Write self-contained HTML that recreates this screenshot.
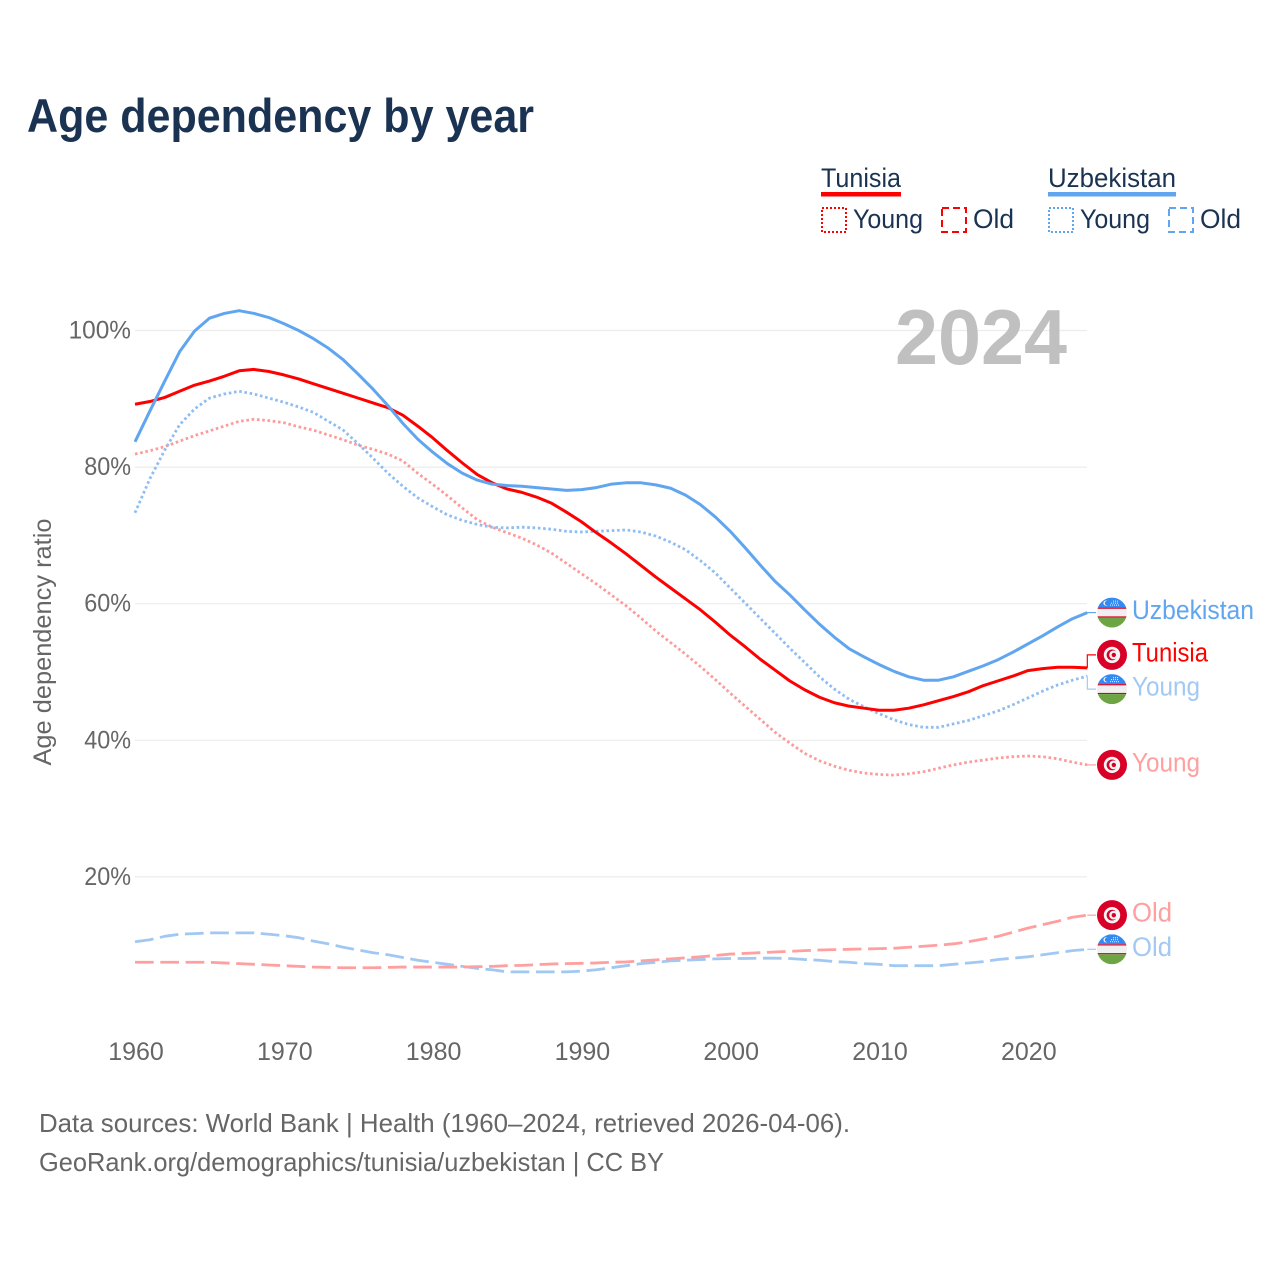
<!DOCTYPE html>
<html lang="en">
<head>
<meta charset="utf-8">
<title>Age dependency by year</title>
<style>
html,body{margin:0;padding:0;background:#fff;}
svg{display:block;}
text{font-family:"Liberation Sans",sans-serif;}
</style>
</head>
<body>
<svg id="chart" xmlns="http://www.w3.org/2000/svg" width="1280" height="1280" viewBox="0 0 1280 1280">
  <rect x="0" y="0" width="1280" height="1280" fill="#ffffff"/>
  <text x="27" y="132" font-size="47" font-weight="700" fill="#1a3352" textLength="507" lengthAdjust="spacingAndGlyphs">Age dependency by year</text>

  <g font-size="27" fill="#1a3352">
    <text x="821" y="187" textLength="80" lengthAdjust="spacingAndGlyphs">Tunisia</text>
    <rect x="821" y="192" width="80" height="4.5" fill="#ff0000"/>
    <rect x="822" y="208" width="24" height="24" fill="none" stroke="#ff0000" stroke-width="2" stroke-dasharray="2 2"/>
    <text x="853" y="228" textLength="70" lengthAdjust="spacingAndGlyphs">Young</text>
    <rect x="942" y="208" width="24" height="24" fill="none" stroke="#ff0000" stroke-width="2" stroke-dasharray="7 4"/>
    <text x="973" y="228" textLength="41" lengthAdjust="spacingAndGlyphs">Old</text>
    <text x="1048" y="187" textLength="128" lengthAdjust="spacingAndGlyphs">Uzbekistan</text>
    <rect x="1048" y="192" width="128" height="4.5" fill="#60a5ef"/>
    <rect x="1049" y="208" width="24" height="24" fill="none" stroke="#60a5ef" stroke-width="2" stroke-dasharray="2 2"/>
    <text x="1080" y="228" textLength="70" lengthAdjust="spacingAndGlyphs">Young</text>
    <rect x="1169" y="208" width="24" height="24" fill="none" stroke="#60a5ef" stroke-width="2" stroke-dasharray="7 4"/>
    <text x="1200" y="228" textLength="41" lengthAdjust="spacingAndGlyphs">Old</text>
  </g>

  <g id="grid"></g>
  <text x="1067" y="364" text-anchor="end" font-size="78" font-weight="700" fill="#c0c0c0" textLength="172" lengthAdjust="spacingAndGlyphs">2024</text>
  <g id="y-ticks"></g>
  <g id="x-ticks"></g>
  <text transform="translate(51,642) rotate(-90)" text-anchor="middle" font-size="25" fill="#666666" textLength="247" lengthAdjust="spacingAndGlyphs">Age dependency ratio</text>
  <g id="series"></g>
  <g id="end-labels"></g>

  <g font-size="26" fill="#666666">
    <text x="39" y="1132" textLength="811" lengthAdjust="spacingAndGlyphs">Data sources: World Bank | Health (1960–2024, retrieved 2026-04-06).</text>
    <text x="39" y="1171" textLength="625" lengthAdjust="spacingAndGlyphs">GeoRank.org/demographics/tunisia/uzbekistan | CC BY</text>
  </g>
</svg>

<script>
const startYear = 1960;
const yTicks = [20, 40, 60, 80, 100];
const xTicks = [1960, 1970, 1980, 1990, 2000, 2010, 2020];

const tunisiaTotal = [
  89.2,89.6,90.2,91.1,92.0,92.6,93.3,94.1,94.3,94.0,
  93.5,92.9,92.2,91.5,90.8,90.1,89.4,88.7,87.6,86.0,
  84.3,82.4,80.6,78.9,77.7,76.8,76.3,75.6,74.7,73.4,
  72.0,70.4,68.9,67.3,65.6,63.9,62.3,60.7,59.1,57.3,
  55.4,53.7,51.9,50.3,48.7,47.4,46.3,45.5,45.0,44.7,
  44.4,44.4,44.7,45.2,45.8,46.4,47.1,48.0,48.7,49.4,
  50.2,50.5,50.7,50.7,50.6];
const tunisiaYoung = [
  81.9,82.4,83.0,83.8,84.6,85.3,86.0,86.7,87.0,86.8,
  86.5,85.9,85.4,84.7,84.0,83.2,82.6,81.9,80.9,79.1,
  77.5,75.8,74.0,72.3,71.2,70.4,69.6,68.6,67.4,65.9,
  64.4,62.9,61.3,59.7,57.9,56.0,54.3,52.6,50.8,48.9,
  46.9,45.0,43.1,41.2,39.6,38.1,37.0,36.2,35.6,35.2,
  35.0,34.9,35.1,35.4,35.9,36.4,36.8,37.1,37.4,37.6,
  37.7,37.6,37.3,36.8,36.4];
const tunisiaOld = [
  7.5,7.5,7.5,7.5,7.5,7.5,7.4,7.3,7.2,7.1,
  7.0,6.9,6.8,6.75,6.7,6.7,6.7,6.75,6.8,6.8,
  6.8,6.8,6.8,6.85,6.9,7.0,7.05,7.15,7.25,7.3,
  7.35,7.4,7.5,7.55,7.7,7.85,8.0,8.15,8.3,8.5,
  8.7,8.8,8.9,9.0,9.1,9.2,9.3,9.35,9.4,9.45,
  9.5,9.55,9.7,9.85,10.0,10.2,10.5,10.9,11.3,11.9,
  12.5,13.0,13.5,14.1,14.4];
const uzbekistanTotal = [
  83.7,88.2,92.6,96.9,99.9,101.8,102.5,102.9,102.5,101.9,
  101.0,100.0,98.8,97.4,95.7,93.6,91.4,89.0,86.4,84.1,
  82.2,80.5,79.1,78.1,77.5,77.3,77.2,77.0,76.8,76.6,
  76.7,77.0,77.5,77.7,77.7,77.4,76.9,75.9,74.5,72.7,
  70.6,68.2,65.7,63.3,61.3,59.1,57.0,55.1,53.4,52.2,
  51.1,50.1,49.3,48.8,48.8,49.3,50.1,50.9,51.8,52.9,
  54.1,55.3,56.6,57.8,58.7];
const uzbekistanYoung = [
  73.3,78.3,82.5,86.2,88.5,90.1,90.7,91.1,90.7,90.1,
  89.5,88.8,88.0,86.7,85.4,83.4,81.3,79.1,77.2,75.5,
  74.2,73.0,72.2,71.6,71.2,71.1,71.2,71.1,70.9,70.6,
  70.5,70.6,70.7,70.8,70.5,69.9,69.0,67.9,66.3,64.5,
  62.3,60.1,57.9,55.7,53.5,51.4,49.3,47.5,46.0,44.9,
  43.9,43.0,42.3,41.9,41.9,42.4,42.9,43.6,44.3,45.2,
  46.2,47.2,48.1,48.8,49.4];
const uzbekistanOld = [
  10.5,10.8,11.3,11.6,11.7,11.8,11.8,11.8,11.8,11.6,
  11.4,11.1,10.6,10.2,9.7,9.3,8.9,8.6,8.2,7.8,
  7.5,7.2,6.9,6.6,6.4,6.1,6.1,6.1,6.1,6.1,
  6.2,6.4,6.7,7.0,7.3,7.5,7.7,7.8,7.9,8.0,
  8.05,8.05,8.1,8.1,8.05,7.9,7.8,7.6,7.5,7.3,
  7.2,7.0,7.0,7.0,7.0,7.2,7.4,7.6,7.9,8.1,
  8.3,8.6,8.9,9.2,9.4];

const SVG_NS = 'http://www.w3.org/2000/svg';
const xScale = function (year) { return 135 + (year - startYear) * 14.88; };
const yScale = function (value) { return 1013.5 - value * 6.83; };

function make(tag, attrs, parent) {
  const el = document.createElementNS(SVG_NS, tag);
  Object.keys(attrs).forEach(function (k) { el.setAttribute(k, attrs[k]); });
  parent.appendChild(el);
  return el;
}

const gridGroup = document.getElementById('grid');
const yTickGroup = document.getElementById('y-ticks');
yTicks.forEach(function (t) {
  const line = make('line', {x1: 135, x2: 1087, y1: yScale(t), y2: yScale(t), stroke: '#ececec', 'stroke-width': 1.2}, gridGroup);
  
  
  const label = make('text', {x: 131, y: yScale(t) + 8, 'text-anchor': 'end', 'font-size': 25, fill: '#666666'}, yTickGroup);
  
  
  label.textContent = t + '%';
  label.setAttribute('textLength', String(t + '%').length * 15.6);
  label.setAttribute('lengthAdjust', 'spacingAndGlyphs');
});

const xTickGroup = document.getElementById('x-ticks');
xTicks.forEach(function (t) {
  const label = make('text', {x: xScale(t) + 1, y: 1060, 'text-anchor': 'middle', 'font-size': 25, fill: '#666666'}, xTickGroup);
  
  
  label.textContent = t;
});

function linePath(values) {
  return values.map(function (v, i) {
    return (i ? 'L' : 'M') + xScale(startYear + i).toFixed(2) + ' ' + yScale(v).toFixed(2);
  }).join(' ');
}

const seriesGroup = document.getElementById('series');
function drawSeries(name, values, color, dash, width) {
  const attrs = {d: linePath(values), fill: 'none', stroke: color, 'stroke-width': width, 'stroke-linejoin': 'round'};
  if (dash) { attrs['stroke-dasharray'] = dash; }
  const path = make('path', attrs, seriesGroup);
  
  
}

drawSeries('line-uzbekistan-old', uzbekistanOld, '#a0c8f3', '18.7 6.6', 2.8);
drawSeries('line-tunisia-old', tunisiaOld, '#ff9f9f', '18.7 6.6', 2.8);
drawSeries('line-tunisia-young', tunisiaYoung, '#ff9a9a', '2.6 2.7', 2.8);
drawSeries('line-uzbekistan-young', uzbekistanYoung, '#8fbdf3', '2.6 2.7', 2.8);
drawSeries('line-tunisia-total', tunisiaTotal, '#ff0000', null, 3);
drawSeries('line-uzbekistan-total', uzbekistanTotal, '#60a5ef', null, 3);

function drawFlag(parent, kind, cy, clipId) {
  const cx = 1112;
  const g = make('g', {}, parent);
  
  
  if (kind === 'tunisia') {
    make('circle', {cx: cx, cy: cy, r: 15, fill: '#d80027'}, g);
    make('circle', {cx: cx, cy: cy, r: 8.2, fill: '#f5f5f5'}, g);
    make('circle', {cx: cx, cy: cy, r: 5.4, fill: '#d80027'}, g);
    make('circle', {cx: cx + 1.6, cy: cy, r: 4.4, fill: '#f5f5f5'}, g);
    make('circle', {cx: cx + 1.8, cy: cy, r: 2.2, fill: '#d80027'}, g);
  } else {
    const clip = make('clipPath', {id: clipId}, g);
    make('circle', {cx: cx, cy: cy, r: 15}, clip);
    const inner = make('g', {'clip-path': 'url(#' + clipId + ')'}, g);
    make('rect', {x: cx - 15, y: cy - 15, width: 30, height: 10, fill: '#338af3'}, inner);
    make('rect', {x: cx - 15, y: cy - 5, width: 30, height: 10, fill: '#f0f0f0'}, inner);
    make('rect', {x: cx - 15, y: cy - 5, width: 30, height: 1.2, fill: '#d80027'}, inner);
    make('rect', {x: cx - 15, y: cy + 3.8, width: 30, height: 1.2, fill: '#d80027'}, inner);
    make('rect', {x: cx - 15, y: cy + 5, width: 30, height: 10, fill: '#6da544'}, inner);
    make('circle', {cx: cx - 6, cy: cy - 9.5, r: 2.6, fill: '#f0f0f0'}, inner);
    make('circle', {cx: cx - 5, cy: cy - 9.5, r: 2.2, fill: '#338af3'}, inner);
    make('path', {d: 'M' + (cx + 1) + ' ' + (cy - 11.5) + 'h6M' + (cx - 1) + ' ' + (cy - 9.5) + 'h8M' + (cx - 2) + ' ' + (cy - 7.5) + 'h9', stroke: '#eaf2fd', 'stroke-width': 1, 'stroke-dasharray': '1 1', fill: 'none'}, inner);
  }
}

const labelGroup = document.getElementById('end-labels');
function drawEndLabel(name, text, kind, values, color, connectorColor, nudge, labelWidth, clipId) {
  const yEnd = yScale(values[values.length - 1]);
  const yLabel = yEnd + nudge;
  const x0 = xScale(startYear + values.length - 1);
  const connector = make('path', {
    d: 'M' + x0 + ' ' + yEnd + ' L' + x0 + ' ' + yLabel + ' L1096 ' + yLabel,
    fill: 'none', stroke: connectorColor, 'stroke-width': 1.2
  }, labelGroup);
  
  
  drawFlag(labelGroup, kind, yLabel, clipId);
  const label = make('text', {
    x: 1132, y: yLabel + 6.5, 'font-size': 27, fill: color,
    textLength: labelWidth, lengthAdjust: 'spacingAndGlyphs'
  }, labelGroup);
  
  
  label.textContent = text;
}

drawEndLabel('end-uzbekistan', 'Uzbekistan', 'uzbekistan', uzbekistanTotal, '#60a5ef', '#60a5ef', 0, 122, 'clip-uz-a');
drawEndLabel('end-tunisia', 'Tunisia', 'tunisia', tunisiaTotal, '#ff0000', '#ff0000', -13, 76, 'clip-tn-a');
drawEndLabel('end-uzbekistan-young', 'Young', 'uzbekistan', uzbekistanYoung, '#a3c9f3', '#a3c9f3', 13, 68, 'clip-uz-b');
drawEndLabel('end-tunisia-young', 'Young', 'tunisia', tunisiaYoung, '#ff9f9f', '#ff9f9f', 0, 68, 'clip-tn-b');
drawEndLabel('end-tunisia-old', 'Old', 'tunisia', tunisiaOld, '#ff9f9f', '#ff9f9f', 0, 40, 'clip-tn-c');
drawEndLabel('end-uzbekistan-old', 'Old', 'uzbekistan', uzbekistanOld, '#a3c9f3', '#a3c9f3', 0, 40, 'clip-uz-c');
</script>
</body>
</html>
